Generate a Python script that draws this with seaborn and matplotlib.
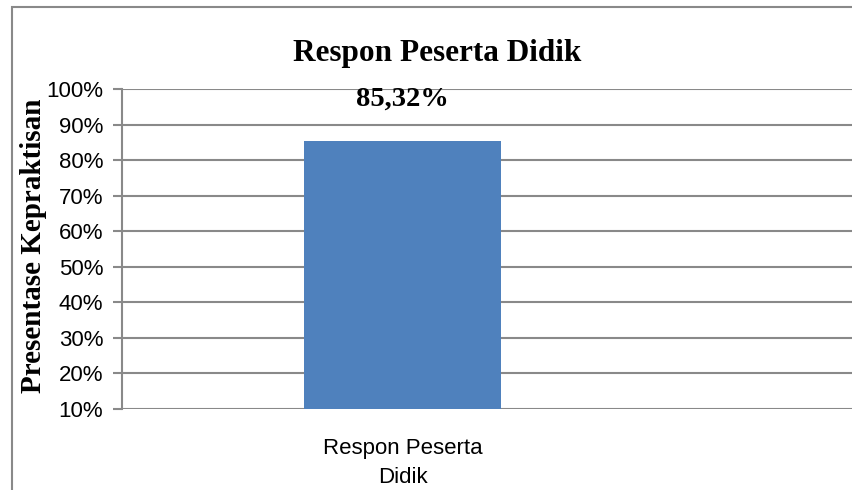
import matplotlib
matplotlib.use("Agg")
import matplotlib.pyplot as plt
import seaborn as sns
import pandas as pd
from matplotlib.patches import Rectangle
from matplotlib.ticker import MultipleLocator, FuncFormatter

categories = ["Respon Peserta\nDidik"]
values = [85.32]
value_labels = ["85,32%"]

sns.set_style("white")
plt.rcParams['font.family'] = ['Liberation Sans', 'DejaVu Sans']
plt.rcParams['text.color'] = 'black'

W, H = 853, 490
fig = plt.figure(figsize=(W / 100, H / 100), dpi=100)
ax = fig.add_axes([122 / W, 1 - 409 / H, 1 - 122 / W + 0.01, (409 - 89) / H])

df = pd.DataFrame({"cat": categories, "val": values})
sns.barplot(data=df, x="cat", y="val", ax=ax, color="#4F81BD", width=0.5,
            saturation=1, zorder=3, linewidth=0, edgecolor="none")

ax.set_ylim(10, 100)
ax.set_xlim(-0.709, 1.16)
ax.yaxis.set_major_locator(MultipleLocator(10))
ax.yaxis.set_major_formatter(FuncFormatter(lambda v, p: f"{v:.0f}%"))
ax.grid(axis="y", color="#898989", linewidth=1.5, zorder=0)
ax.grid(axis="x", visible=False)
for s in ["top", "right", "bottom"]:
    ax.spines[s].set_visible(False)
ax.spines["left"].set_color("#898989")
ax.spines["left"].set_linewidth(1.5)
ax.tick_params(axis="y", which="major", left=True, length=6.5, width=1.5,
               color="#898989", labelsize=16, pad=7, labelcolor="black")
ax.tick_params(axis="x", length=0, labelsize=16, pad=21, labelcolor="black")
for lbl in ax.get_xticklabels():
    lbl.set_linespacing(1.5)

ax.set_xlabel("")
ax.set_ylabel("Presentase Kepraktisan", family="Liberation Serif",
              fontweight="bold", fontsize=21, color="black")
ax.yaxis.set_label_coords(-0.101, 0.51)

for i, (v, t) in enumerate(zip(values, value_labels)):
    ax.text(i, 97, t, ha="center", va="center", family="Liberation Serif",
            fontweight="bold", fontsize=20.5, color="black")

fig.text(437 / W, 1 - 53 / H, "Respon Peserta Didik", ha="center", va="center",
         family="Liberation Serif", fontweight="bold", fontsize=22.5, color="black")

fig.patches.append(Rectangle((12 / W, -0.1), 1.2, 1 - 7 / H + 0.1,
                             transform=fig.transFigure, fill=False,
                             edgecolor="#898989", linewidth=1.5))

fig.savefig("out.png", dpi=100)
